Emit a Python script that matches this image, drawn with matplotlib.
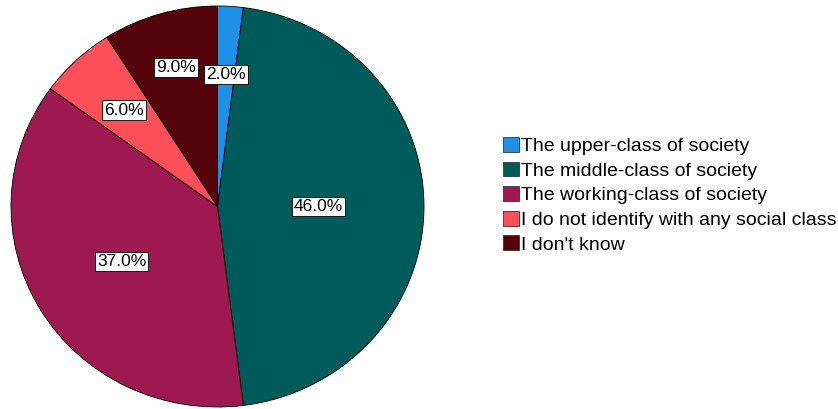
import matplotlib.pyplot as plt
import numpy as np

# 데이터
categories = ['The upper-class of society', 'The middle-class of society',
              'The working-class of society', 'I do not identify with any social class',
              "I don't know"]
percents = [2.0, 46.0, 37.0, 6.0, 9.0]
colors = ['#1e90e6', '#005b5b', '#9d1950', '#fc4f59', '#56040b']
label_dist = [0.66, 0.49, 0.54, 0.66, 0.72]

plt.rcParams['font.family'] = ['Liberation Sans', 'DejaVu Sans']

fig = plt.figure(figsize=(8.38, 4.09), dpi=100)
W, H = 838, 409
# 파이 영역 (픽셀 기준)
ax = fig.add_axes([11 / W, 1 - 407 / H, 413 / W, 401 / H])

wedges, texts, autotexts = ax.pie(
    percents, colors=colors, startangle=90, counterclock=False,
    autopct='%1.1f%%', radius=1.0,
    wedgeprops=dict(edgecolor='black', linewidth=0.6))
ax.set_aspect('auto')
ax.set_xlim(-1, 1)
ax.set_ylim(-1, 1)

# 라벨 위치 조정
for w, t, d in zip(wedges, autotexts, label_dist):
    ang = np.deg2rad((w.theta1 + w.theta2) / 2)
    t.set_position((d * np.cos(ang), d * np.sin(ang)))
    t.set_fontsize(12.5)
    t.set_color('black')
    t.set_bbox(dict(facecolor='white', edgecolor='black', linewidth=0.6, pad=1.5))

handles = [plt.Rectangle((0, 0), 1, 1, facecolor=c, edgecolor='#333333', linewidth=0.6)
           for c in colors]
fig.legend(handles, categories, loc='upper left', bbox_to_anchor=(503 / W, 1 - 137 / H),
           frameon=False, fontsize=14, handlelength=0.8, handleheight=0.8,
           handletextpad=0.12, labelspacing=0.33, borderpad=0, borderaxespad=0)

plt.savefig('out.png', dpi=100)
